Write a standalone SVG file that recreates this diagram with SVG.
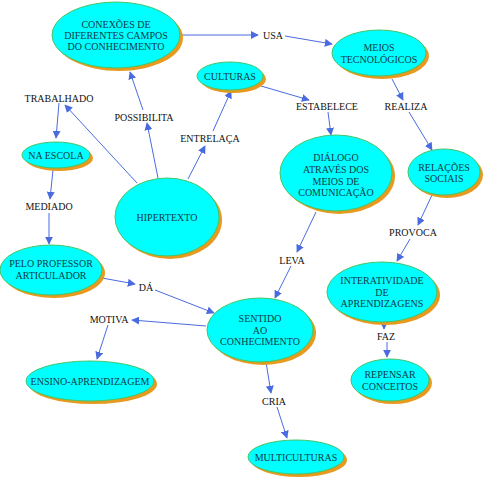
<svg xmlns="http://www.w3.org/2000/svg" width="485" height="480" viewBox="0 0 485 480">
<style>
.sh{fill:#E79A1E;}
.nd{fill:#00FFFF;stroke:#45C46A;stroke-width:1;}
.nt{font-family:'Liberation Serif','Times New Roman',serif;font-size:10px;fill:#0E3A48;text-anchor:middle;}
.lt{font-family:'Liberation Serif','Times New Roman',serif;font-size:10px;fill:#111;text-anchor:middle;}
.cn{stroke:#4A6BE0;stroke-width:1;fill:none;marker-end:url(#ah);}
</style>
<defs>
<marker id="ah" viewBox="0 0 10 10" refX="9" refY="5" markerWidth="8" markerHeight="8" markerUnits="userSpaceOnUse" orient="auto">
<path d="M0,0 L10,5 L0,10 z" fill="#4A6BE0"/>
</marker>
</defs>
<rect width="485" height="480" fill="#fff"/>
<g id="connectors">
<line class="cn" x1="180" y1="35" x2="258" y2="35"/>
<line class="cn" x1="285" y1="36" x2="332" y2="44"/>
<line class="cn" x1="261" y1="86" x2="309" y2="100"/>
<line class="cn" x1="328" y1="112" x2="331" y2="135"/>
<line class="cn" x1="392" y1="79" x2="403" y2="100"/>
<line class="cn" x1="409" y1="112" x2="432" y2="150"/>
<line class="cn" x1="137" y1="183" x2="65" y2="105"/>
<line class="cn" x1="59" y1="103" x2="56" y2="138"/>
<line class="cn" x1="158" y1="178" x2="147" y2="123"/>
<line class="cn" x1="143" y1="110" x2="130" y2="72"/>
<line class="cn" x1="188" y1="179" x2="205" y2="146"/>
<line class="cn" x1="213" y1="131" x2="231" y2="91"/>
<line class="cn" x1="53" y1="170" x2="50" y2="199"/>
<line class="cn" x1="49" y1="213" x2="49" y2="244"/>
<line class="cn" x1="102" y1="278" x2="135" y2="284"/>
<line class="cn" x1="155" y1="290" x2="214" y2="313"/>
<line class="cn" x1="206" y1="326" x2="132" y2="320"/>
<line class="cn" x1="108" y1="325" x2="97" y2="359"/>
<line class="cn" x1="316" y1="212" x2="297" y2="252"/>
<line class="cn" x1="291" y1="266" x2="275" y2="298"/>
<line class="cn" x1="432" y1="195" x2="418" y2="225"/>
<line class="cn" x1="410" y1="239" x2="397" y2="261"/>
<line class="cn" x1="384" y1="322" x2="384" y2="329"/>
<line class="cn" x1="387" y1="342" x2="387" y2="357"/>
<line class="cn" x1="266" y1="362" x2="271" y2="393"/>
<line class="cn" x1="277" y1="407" x2="287" y2="438"/>
</g>
<g id="labels">
<text class="lt" x="273" y="39">USA</text>
<text class="lt" x="327" y="110">ESTABELECE</text>
<text class="lt" x="406" y="110">REALIZA</text>
<text class="lt" x="59" y="102">TRABALHADO</text>
<text class="lt" x="144" y="121">POSSIBILITA</text>
<text class="lt" x="210" y="142">ENTRELAÇA</text>
<text class="lt" x="49" y="210">MEDIADO</text>
<text class="lt" x="146" y="291">DÁ</text>
<text class="lt" x="292" y="264">LEVA</text>
<text class="lt" x="413" y="236">PROVOCA</text>
<text class="lt" x="109" y="323">MOTIVA</text>
<text class="lt" x="386" y="340">FAZ</text>
<text class="lt" x="274" y="405">CRIA</text>
</g>
<g id="n-conexoes">
<ellipse class="sh" cx="119" cy="38" rx="64" ry="33"/>
<ellipse class="nd" cx="116" cy="35" rx="64" ry="33"/>
<text class="nt" x="116" y="28">CONEXÕES DE</text>
<text class="nt" x="116" y="39">DIFERENTES CAMPOS</text>
<text class="nt" x="116" y="50">DO CONHECIMENTO</text>
</g>
<g id="n-culturas">
<ellipse class="sh" cx="233" cy="79" rx="33" ry="14"/>
<ellipse class="nd" cx="230" cy="76" rx="33" ry="14"/>
<text class="nt" x="230" y="80">CULTURAS</text>
</g>
<g id="n-meios">
<ellipse class="sh" cx="382" cy="56" rx="47" ry="23"/>
<ellipse class="nd" cx="379" cy="53" rx="47" ry="23"/>
<text class="nt" x="379" y="51">MEIOS</text>
<text class="nt" x="379" y="63">TECNOLÓGICOS</text>
</g>
<g id="n-escola">
<ellipse class="sh" cx="59" cy="158" rx="34" ry="13"/>
<ellipse class="nd" cx="56" cy="155" rx="34" ry="13"/>
<text class="nt" x="56" y="159">NA ESCOLA</text>
</g>
<g id="n-hipertexto">
<ellipse class="sh" cx="170" cy="220" rx="52" ry="39"/>
<ellipse class="nd" cx="167" cy="217" rx="52" ry="39"/>
<text class="nt" x="167" y="221">HIPERTEXTO</text>
</g>
<g id="n-dialogo">
<ellipse class="sh" cx="339" cy="176" rx="56" ry="38"/>
<ellipse class="nd" cx="336" cy="173" rx="56" ry="38"/>
<text class="nt" x="336" y="161">DIÁLOGO</text>
<text class="nt" x="336" y="173">ATRAVÉS DOS</text>
<text class="nt" x="336" y="185">MEIOS DE</text>
<text class="nt" x="336" y="196">COMUNICAÇÃO</text>
</g>
<g id="n-relacoes">
<ellipse class="sh" cx="447" cy="175" rx="36" ry="23"/>
<ellipse class="nd" cx="444" cy="172" rx="36" ry="23"/>
<text class="nt" x="444" y="171">RELAÇÕES</text>
<text class="nt" x="444" y="182">SOCIAIS</text>
</g>
<g id="n-professor">
<ellipse class="sh" cx="54" cy="273" rx="51" ry="25"/>
<ellipse class="nd" cx="51" cy="270" rx="51" ry="25"/>
<text class="nt" x="51" y="267">PELO PROFESSOR</text>
<text class="nt" x="51" y="279">ARTICULADOR</text>
</g>
<g id="n-interatividade">
<ellipse class="sh" cx="385" cy="295" rx="55" ry="30"/>
<ellipse class="nd" cx="382" cy="292" rx="55" ry="30"/>
<text class="nt" x="382" y="284">INTERATIVIDADE</text>
<text class="nt" x="382" y="296">DE</text>
<text class="nt" x="382" y="307">APRENDIZAGENS</text>
</g>
<g id="n-sentido">
<ellipse class="sh" cx="263" cy="333" rx="53" ry="32"/>
<ellipse class="nd" cx="260" cy="330" rx="53" ry="32"/>
<text class="nt" x="260" y="322">SENTIDO</text>
<text class="nt" x="260" y="334">AO</text>
<text class="nt" x="260" y="345">CONHECIMENTO</text>
</g>
<g id="n-ensino">
<ellipse class="sh" cx="93" cy="384" rx="64" ry="20"/>
<ellipse class="nd" cx="90" cy="381" rx="64" ry="20"/>
<text class="nt" x="90" y="385">ENSINO-APRENDIZAGEM</text>
</g>
<g id="n-repensar">
<ellipse class="sh" cx="393" cy="383" rx="39" ry="21"/>
<ellipse class="nd" cx="390" cy="380" rx="39" ry="21"/>
<text class="nt" x="390" y="378">REPENSAR</text>
<text class="nt" x="390" y="390">CONCEITOS</text>
</g>
<g id="n-multiculturas">
<ellipse class="sh" cx="299" cy="460" rx="48" ry="17"/>
<ellipse class="nd" cx="296" cy="457" rx="48" ry="17"/>
<text class="nt" x="296" y="461">MULTICULTURAS</text>
</g>
</svg>
